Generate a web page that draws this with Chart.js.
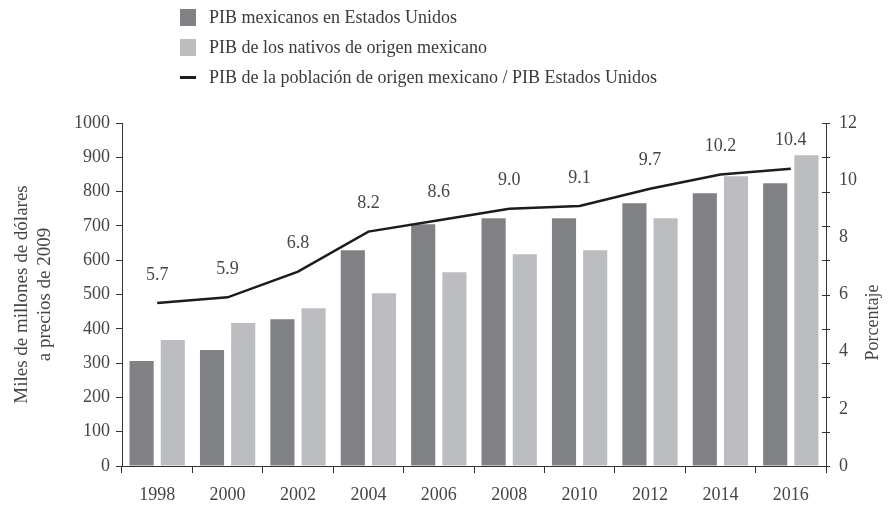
<!DOCTYPE html>
<html>
<head>
<meta charset="utf-8">
<script src="https://cdn.jsdelivr.net/npm/chart.js@4"></script>
<style>
  body { margin: 0; background: #fff; }
  #wrap { position: relative; width: 889px; height: 506px; }
  #leyenda { position: absolute; left: 180px; top: 2px; font-family: "Liberation Serif", serif; font-size: 18px; color: #3a3a3a; }
  #leyenda div { height: 30px; display: flex; align-items: center; }
  #leyenda span.m { display: inline-block; width: 16px; margin-right: 13px; }
</style>
</head>
<body>
<div id="wrap">
  <canvas id="canva1"></canvas>
  <div id="leyenda"></div>
</div>
<script>
const years = ["1998", "2000", "2002", "2004", "2006", "2008", "2010", "2012", "2014", "2016"];
const pibMexicanos = [306, 338, 428, 629, 705, 722, 722, 766, 795, 824];
const pibNativos = [367, 417, 460, 504, 565, 617, 629, 722, 845, 906];
const porcentaje = [5.7, 5.9, 6.8, 8.2, 8.6, 9.0, 9.1, 9.7, 10.2, 10.4];
const rightLabels = [0, 2, 4, 6, 8, 10, 12];

const colorOscuro = "#808185";
const colorClaro = "#bcbdc0";
const colorLinea = "#1c1c1c";
const colorTexto = "#454545";
const fuente = "Liberation Serif";

// labels over the line points + ticks on the right axis + right title
const extras = {
    id: "extras",
    afterDatasetsDraw(chart){
        let ctx = chart.ctx;
        let meta = chart.getDatasetMeta(2);
        ctx.save();
        ctx.fillStyle = colorTexto;
        ctx.font = "18px '" + fuente + "'";
        ctx.textAlign = "center";
        ctx.textBaseline = "middle";
        meta.data.forEach(function(p, i){
            ctx.fillText(porcentaje[i].toFixed(1), p.x, p.y - 28);
        });
        // tick marks on the right axis (same positions as the left ones)
        let y = chart.scales.y;
        let right = chart.chartArea.right;
        ctx.strokeStyle = "#333";
        ctx.lineWidth = 1;
        y.ticks.forEach(function(t){
            let py = Math.round(y.getPixelForValue(t.value)) + 0.5;
            ctx.beginPath();
            ctx.moveTo(right - 4, py);
            ctx.lineTo(right + 4, py);
            ctx.stroke();
        });
        // right axis title, reading bottom to top
        let mid = (chart.chartArea.top + chart.chartArea.bottom) / 2 + 28;
        ctx.translate(873, mid);
        ctx.rotate(-Math.PI / 2);
        ctx.fillText("Porcentaje", 0, 0);
        ctx.restore();
    }
};

window.onload = function(){
    let canva1 = document.getElementById("canva1");
    let grafico1 = new Chart(canva1, {
        type: "bar",
        data: {
            labels: years,
            datasets: [{
                label: "PIB mexicanos en Estados Unidos",
                data: pibMexicanos,
                backgroundColor: colorOscuro,
                yAxisID: "y",
                order: 1
            }, {
                label: "PIB de los nativos de origen mexicano",
                data: pibNativos,
                backgroundColor: colorClaro,
                yAxisID: "y",
                order: 1
            }, {
                type: "line",
                label: "PIB de la población de origen mexicano / PIB Estados Unidos",
                data: porcentaje,
                borderColor: colorLinea,
                borderWidth: 2.5,
                pointRadius: 0,
                tension: 0,
                yAxisID: "y1",
                order: 0
            }]
        },
        options: {
            responsive: true,
            maintainAspectRatio: false,
            animation: false,
            layout: { padding: { top: 123, left: 0, right: 0, bottom: 0 } },
            datasets: { bar: { categoryPercentage: 0.886, barPercentage: 0.774 } },
            plugins: { legend: { display: false }, tooltip: { enabled: false } },
            scales: {
                x: {
                    afterFit: function(s){ s.height = 40; },
                    grid: { drawOnChartArea: false, offset: true, tickLength: 7, color: "#333" },
                    border: { color: "#333", width: 1 },
                    ticks: { color: colorTexto, font: { family: fuente, size: 18 }, padding: 11 }
                },
                y: {
                    position: "left",
                    min: 0,
                    max: 1000,
                    afterFit: function(s){ s.width = 122; },
                    ticks: {
                        stepSize: 100,
                        color: colorTexto,
                        font: { family: fuente, size: 18 },
                        padding: 6,
                        callback: function(v){ return String(v); }
                    },
                    grid: { drawOnChartArea: false, tickLength: 6, color: "#333" },
                    border: { color: "#333", width: 1 },
                    title: {
                        display: true,
                        text: ["Miles de millones de dólares", "a precios de 2009"],
                        color: colorTexto,
                        font: { family: fuente, size: 19 },
                        padding: { top: 11, bottom: 0 }
                    }
                },
                y1: {
                    position: "right",
                    min: 0,
                    max: 12,
                    afterFit: function(s){ s.width = 63; },
                    afterBuildTicks: function(s){ s.ticks = rightLabels.map(v => ({ value: v })); },
                    ticks: { color: colorTexto, font: { family: fuente, size: 18 }, padding: 13 },
                    grid: { display: false, drawTicks: false },
                    border: { display: true, color: "#333", width: 1 }
                }
            }
        },
        plugins: [extras]
    });

    // legend as html text
    let leyenda = document.getElementById("leyenda");
    grafico1.data.datasets.forEach(function(ds){
        let fila = document.createElement("div");
        let marca = document.createElement("span");
        marca.className = "m";
        if (ds.type === "line") {
            marca.style.height = "3px";
            marca.style.background = ds.borderColor;
        } else {
            marca.style.height = "17px";
            marca.style.background = ds.backgroundColor;
        }
        fila.appendChild(marca);
        fila.appendChild(document.createTextNode(ds.label));
        leyenda.appendChild(fila);
    });
}
</script>
</body>
</html>
